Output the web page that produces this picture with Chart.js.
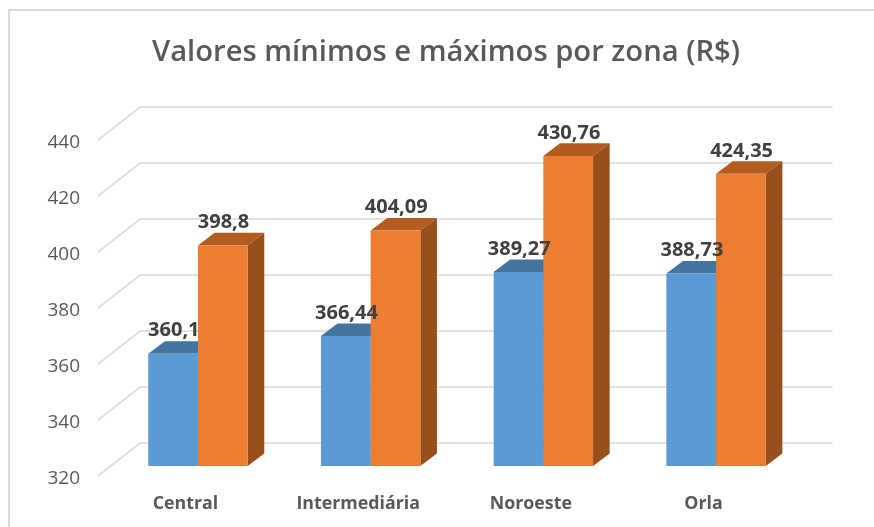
<!DOCTYPE html>
<html>
<head>
<meta charset="utf-8">
<title>Valores por zona</title>
<script src="https://cdn.jsdelivr.net/npm/chart.js@4"></script>
<style>
  html, body { margin: 0; padding: 0; background: #fff; overflow: hidden; }
  #frame { position: absolute; left: 8px; top: 9px; width: 866px; height: 518px;
           border-top: 2px solid #d9d9d9; border-left: 2px solid #d9d9d9; box-sizing: border-box; }
  #chart { position: absolute; left: 0; top: 0; }
</style>
</head>
<body>
<div id="frame"></div>
<canvas id="chart" width="874" height="527"></canvas>
<script>
var zonas = ["Central", "Intermediária", "Noroeste", "Orla"];
var minimos = [360.1, 366.44, 389.27, 388.73];
var maximos = [398.8, 404.09, 430.76, 424.35];

// fake 3d: excel style depth offsets
var barDepth = { x: 16.6, y: 12.6 };
var wallFront = { x: 98, y: 10 };
var wallBack = { x: 140, y: -23 };
var wallRight = 832.7;

var topColors = ["#44749f", "#b45c20"];
var sideColors = ["#3d6a91", "#974f1c"];

var fake3d = {
  id: 'fake3d',
  beforeDatasetsDraw: function(chart) {
    var ctx = chart.ctx;
    var y = chart.scales.y;
    var floor = y.getPixelForValue(y.min);
    ctx.save();

    // back wall grid and the diagonal floor lines
    ctx.strokeStyle = '#d9d9d9';
    ctx.lineWidth = 1.6;
    y.ticks.forEach(function(t) {
      var py = y.getPixelForValue(t.value);
      ctx.beginPath();
      ctx.moveTo(wallFront.x, py + wallFront.y);
      ctx.lineTo(wallBack.x, py + wallBack.y);
      ctx.lineTo(wallRight, py + wallBack.y);
      ctx.stroke();
    });

    // bar tops and sides, front faces are drawn by chart.js after this
    chart.data.datasets.forEach(function(ds, d) {
      chart.getDatasetMeta(d).data.forEach(function(bar) {
        var l = bar.x - bar.width / 2, r = bar.x + bar.width / 2;
        ctx.fillStyle = topColors[d];
        ctx.beginPath();
        ctx.moveTo(l, bar.y);
        ctx.lineTo(l + barDepth.x, bar.y - barDepth.y);
        ctx.lineTo(r + barDepth.x, bar.y - barDepth.y);
        ctx.lineTo(r, bar.y);
        ctx.closePath();
        ctx.fill();
        ctx.fillStyle = sideColors[d];
        ctx.beginPath();
        ctx.moveTo(r, bar.y);
        ctx.lineTo(r + barDepth.x, bar.y - barDepth.y);
        ctx.lineTo(r + barDepth.x, floor - barDepth.y);
        ctx.lineTo(r, floor);
        ctx.closePath();
        ctx.fill();
      });
    });
    ctx.restore();
  },
  afterDatasetsDraw: function(chart) {
    var ctx = chart.ctx;
    ctx.save();
    ctx.font = '700 20px "Open Sans"';
    ctx.fillStyle = '#404040';
    ctx.textAlign = 'center';
    ctx.textBaseline = 'middle';
    chart.data.datasets.forEach(function(ds, d) {
      chart.getDatasetMeta(d).data.forEach(function(bar, i) {
        ctx.fillText(String(ds.data[i]).replace('.', ','), bar.x + 0.7, bar.y - 23);
      });
    });
    ctx.restore();
  }
};

new Chart(document.getElementById('chart'), {
  type: 'bar',
  data: {
    labels: zonas,
    datasets: [
      { label: "Mínimo", data: minimos, backgroundColor: "#5b9bd5", borderWidth: 0 },
      { label: "Máximo", data: maximos, backgroundColor: "#ed7d31", borderWidth: 0 }
    ]
  },
  plugins: [fake3d],
  options: {
    responsive: false,
    animation: false,
    layout: { padding: { left: 18, right: 0, top: 0, bottom: 0 } },
    datasets: { bar: { categoryPercentage: 0.5756, barPercentage: 1 } },
    plugins: {
      legend: { display: false },
      tooltip: { enabled: false },
      title: {
        display: true,
        text: 'Valores mínimos e máximos por zona (R$)',
        color: '#595959',
        font: { family: '"Open Sans"', size: 29.2, weight: '600', lineHeight: 1.2 },
        padding: { top: 35.5, bottom: 59.5 }
      }
    },
    scales: {
      x: {
        grid: { display: false },
        border: { display: false },
        ticks: {
          color: '#595959',
          font: { family: '"Open Sans"', size: 17.8, weight: '700' },
          labelOffset: -12.5,
          padding: 19,
          maxRotation: 0,
          autoSkip: false
        },
        afterFit: function(s) { s.height = 61; }
      },
      y: {
        min: 320,
        max: 440,
        grid: { display: false },
        border: { display: false },
        ticks: {
          stepSize: 20,
          color: '#595959',
          font: { family: '"Open Sans"', size: 19 },
          labelOffset: 13,
          padding: 23.6
        },
        afterFit: function(s) { s.width = 93.6; }
      },
      // empty axis, only keeps the plot clear of the right side so the title stays centred
      rightGap: {
        position: 'right',
        display: true,
        grid: { display: false },
        border: { display: false },
        ticks: { display: false },
        afterFit: function(s) { s.width = 71.6; }
      }
    }
  }
});
</script>
</body>
</html>
